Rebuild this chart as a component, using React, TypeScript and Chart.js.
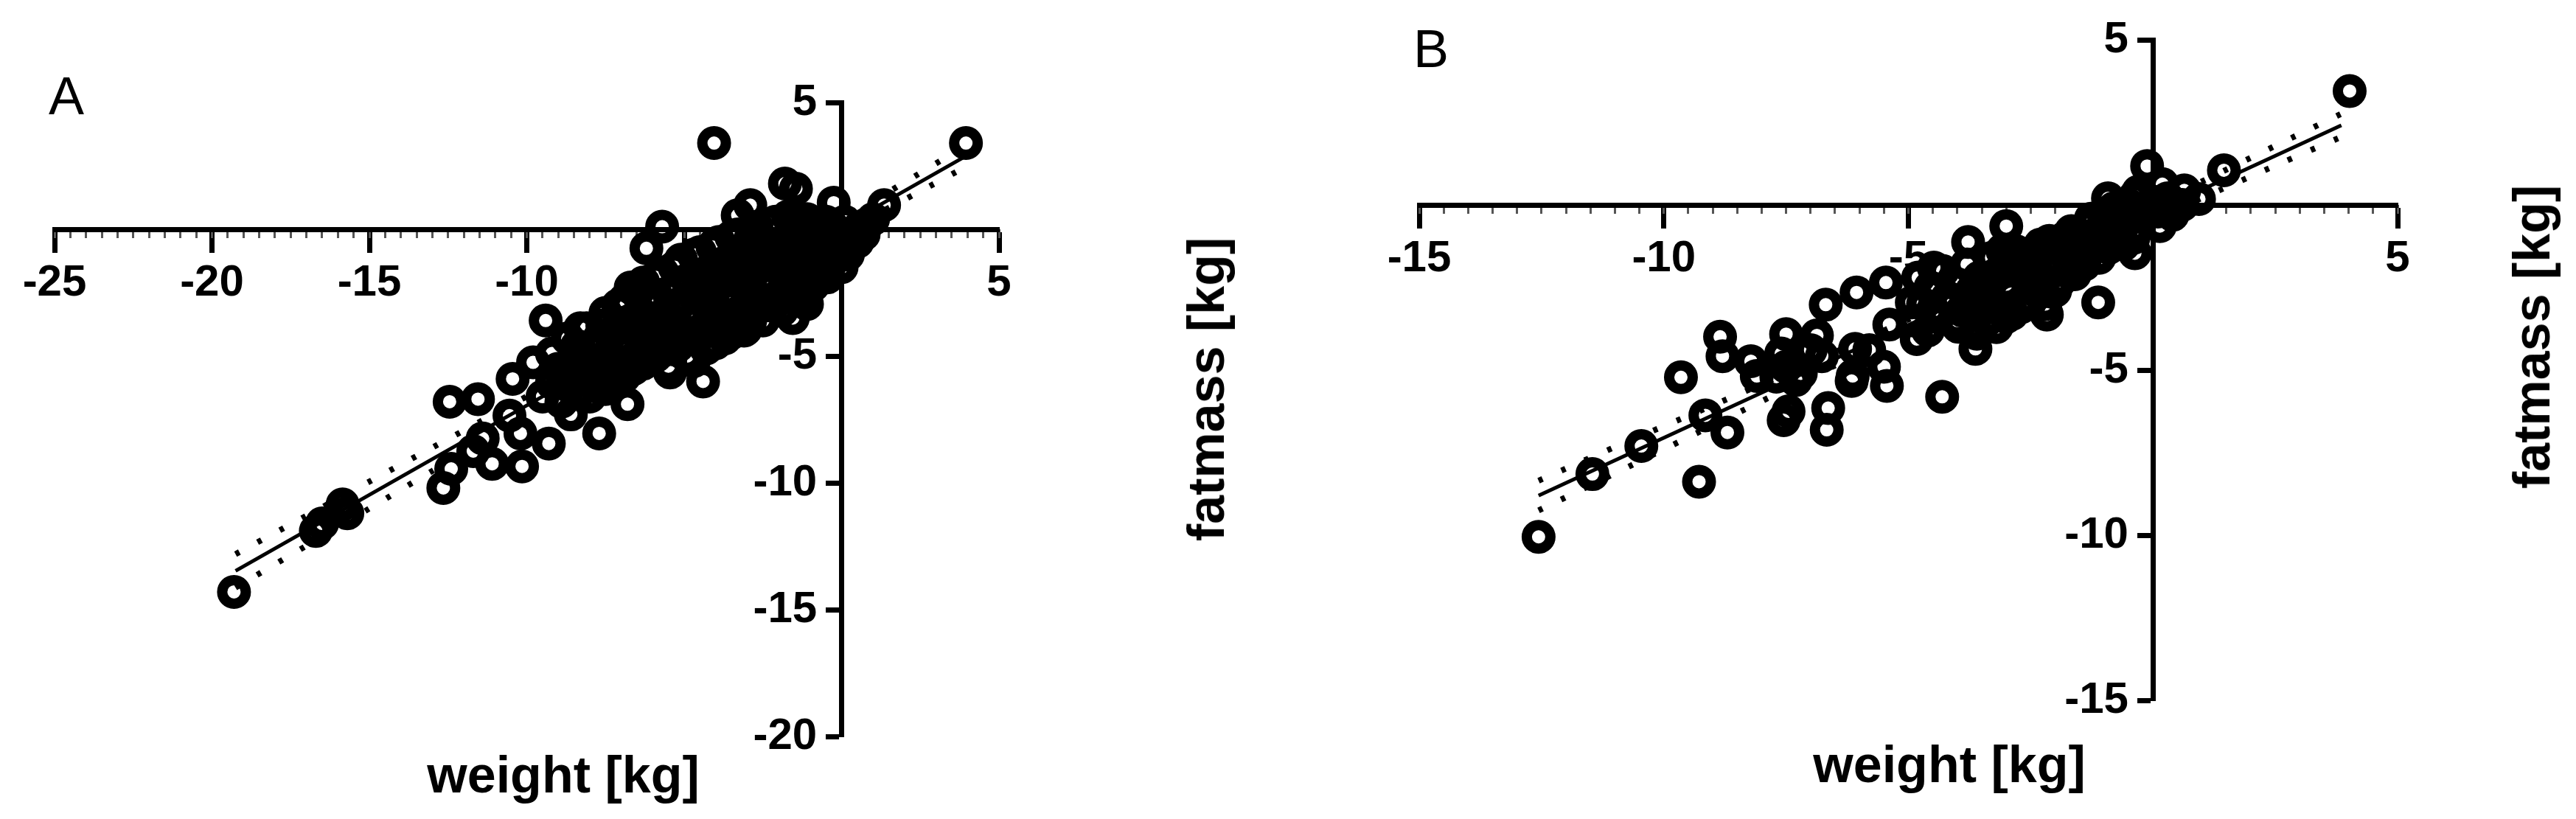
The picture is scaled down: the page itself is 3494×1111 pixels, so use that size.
import React, { useEffect, useRef } from 'react';
import { Chart, registerables } from 'chart.js';

Chart.register(...registerables);

const FONT = "'Liberation Sans', Arial, Helvetica, sans-serif";

// ---------- Panel A data (weight change [kg], fatmass change [kg]) ----------
const outlyingA: [number, number][] = [
  [-19.3, -14.3], [-16.7, -11.9], [-16.5, -11.6], [-15.7, -11.2], [-15.85, -10.85],
  [-12.45, -6.8], [-11.55, -6.7], [-12.65, -10.2], [-12.4, -9.45], [-11.7, -8.75],
  [-11.1, -9.25], [-10.15, -9.35], [-9.3, -8.45], [-10.2, -8.05], [-10.55, -7.35],
  [-11.4, -8.25], [-8.6, -7.3], [-7.7, -8.05], [-10.45, -5.9], [-9.8, -5.25],
  [-9.4, -3.6], [-8.3, -3.9], [-9.2, -6.05], [-9.2, -4.9], [-7.6, -3.8],
  [-6.15, -3.55], [-6.85, -3.0], [-6.7, -2.3], [-5.8, -1.8], [-6.2, -0.75],
  [-5.7, 0.1], [-4.05, 3.4], [-1.8, 1.8], [-1.45, 1.6], [-0.25, 1.05],
  [1.35, 0.95], [-2.9, 0.95], [-3.3, 0.55], [-4.4, -6.0], [-5.45, -5.65],
  [-6.8, -6.9], [-0.45, -1.9], [-1.1, -2.95], [-1.55, -3.5], [-3.05, -3.95],
  [-4.0, -0.55], [0.15, -0.8], [0.55, 0.05], [3.95, 3.4], [-9.0, -5.5],
  [-8.65, -6.2], [-8.2, -5.0], [-8.9, -6.8], [-8.0, -6.6], [-9.5, -6.6], [-8.4, -4.6],
];
const clusterA: [number, number][] = [
  [-8.7, -4.3], [-8.5, -5.1], [-8.6, -5.9], [-8.4, -6.5],
  [-8.1, -3.9], [-7.9, -4.7], [-8.0, -5.4], [-7.8, -6.2],
  [-7.5, -3.3], [-7.3, -4.1], [-7.4, -4.9], [-7.2, -5.6], [-7.5, -6.3],
  [-6.9, -2.8], [-6.7, -3.6], [-6.8, -4.4], [-6.6, -5.1], [-6.9, -5.8],
  [-6.3, -2.1], [-6.1, -2.9], [-6.2, -3.8], [-6.0, -4.6], [-6.3, -5.3],
  [-5.7, -1.7], [-5.5, -2.5], [-5.6, -3.3], [-5.4, -4.1], [-5.7, -4.8], [-5.5, -5.4],
  [-5.1, -1.2], [-4.9, -2.0], [-5.0, -2.8], [-4.8, -3.6], [-5.1, -4.3], [-4.9, -5.0],
  [-4.5, -0.9], [-4.3, -1.7], [-4.4, -2.5], [-4.2, -3.3], [-4.5, -4.0], [-4.3, -4.7],
  [-3.9, -0.5], [-3.7, -1.3], [-3.8, -2.1], [-3.6, -2.9], [-3.9, -3.6], [-3.7, -4.3],
  [-3.3, -0.2], [-3.1, -1.0], [-3.2, -1.8], [-3.0, -2.6], [-3.3, -3.3], [-3.1, -4.0],
  [-2.7, 0.1], [-2.5, -0.7], [-2.6, -1.5], [-2.4, -2.3], [-2.7, -3.0], [-2.5, -3.6],
  [-2.1, 0.3], [-1.9, -0.5], [-2.0, -1.3], [-1.8, -2.0], [-2.1, -2.7], [-1.9, -3.2],
  [-1.5, 0.3], [-1.3, -0.5], [-1.4, -1.2], [-1.2, -1.9], [-1.5, -2.5],
  [-0.9, 0.2], [-0.7, -0.5], [-0.8, -1.2], [-0.6, -1.8], [-0.9, -2.2],
  [-0.3, 0.1], [-0.1, -0.5], [-0.2, -1.1], [0.0, -1.5],
  [0.3, -0.2], [0.5, -0.5], [0.8, 0.2],
];
const denseA: [number, number][] = [
  [-8.3, -4.8], [-8.3, -5.6], [-7.7, -4.3], [-7.6, -5.1], [-7.6, -5.8], [-7.1, -3.0],
  [-7.0, -3.8], [-7.0, -4.6], [-7.0, -5.3], [-6.5, -2.5], [-6.4, -3.3], [-6.5, -4.1],
  [-6.4, -4.8], [-6.6, -5.5], [-5.9, -1.9], [-5.9, -2.7], [-5.8, -3.6], [-5.8, -4.3],
  [-5.9, -5.0], [-5.3, -1.5], [-5.2, -2.3], [-5.3, -3.1], [-5.2, -3.9], [-5.2, -4.6],
  [-4.7, -1.0], [-4.6, -1.8], [-4.7, -2.6], [-4.6, -3.4], [-4.6, -4.3], [-4.7, -5.2],
  [-4.1, -0.7], [-4.0, -1.5], [-4.1, -2.3], [-4.0, -3.1], [-4.1, -3.8], [-4.0, -4.5],
  [-3.5, -0.3], [-3.4, -1.1], [-3.5, -1.9], [-3.4, -2.7], [-3.5, -3.5], [-3.5, -4.1],
  [-2.9, -0.4], [-2.8, -1.2], [-2.9, -2.0], [-2.8, -2.8], [-2.9, -3.6], [-2.3, 0.2],
  [-2.2, -0.6], [-2.3, -1.4], [-2.2, -2.2], [-2.3, -3.0], [-1.7, 0.5], [-1.6, -0.2],
  [-1.7, -0.9], [-1.6, -1.6], [-1.7, -2.4], [-1.1, 0.4], [-1.0, -0.3], [-1.1, -1.0],
  [-1.0, -1.6], [-1.2, -2.6], [-0.5, 0.3], [-0.4, -0.3], [-0.5, -1.0], [-0.4, -1.5],
  [0.1, 0.3], [0.2, -1.0], [0.7, -0.2], [1.0, 0.4],
];
const fitAx = [-19.25, 3.95];
const fitAy = [-13.47, 2.89];
const ciAx = [-19.25, -17, -15, -13, -11, -9, -7, -5, -3, -1, 1, 2.5, 3.95];
const ciAUpper = [-12.81, -11.3, -9.95, -8.61, -7.26, -5.92, -4.57, -3.2, -1.8, -0.36, 1.11, 2.22, 3.31];
const ciALower = [-14.13, -12.48, -11.01, -9.53, -8.06, -6.58, -5.11, -3.66, -2.24, -0.86, 0.51, 1.5, 2.47];

// ---------- Panel B data ----------
const outlyingB: [number, number][] = [
  [-12.56, -10.05], [-11.46, -8.15], [-10.46, -7.3], [-9.65, -5.22], [-9.15, -6.37],
  [-8.7, -6.89], [-9.28, -8.38], [-8.85, -3.99], [-8.8, -4.58], [-8.22, -4.73],
  [-8.1, -5.18], [-7.5, -3.91], [-7.55, -6.52], [-7.45, -6.25], [-6.87, -3.95],
  [-6.77, -4.58], [-6.69, -3.02], [-6.06, -2.65], [-5.46, -2.35], [-6.64, -6.15],
  [-6.67, -6.81], [-6.14, -5.18], [-6.09, -4.36], [-5.44, -5.48], [-5.39, -3.62],
  [-7.5, -4.9], [-7.2, -5.1], [-7.6, -4.5], [-7.3, -5.3], [-7.0, -4.4],
  [-7.7, -5.2], [-5.8, -4.4], [-5.5, -4.9], [-6.16, -5.33], [-4.31, -5.81],
  [-4.83, -4.06], [-4.93, -2.95], [-4.48, -1.9], [-3.98, -3.69], [-3.63, -4.36],
  [-3.78, -1.12], [-3.0, -0.64], [-3.08, -1.38], [-2.12, -1.09], [-1.67, -0.79],
  [-2.17, -3.32], [-1.12, -2.95], [-0.12, 1.18], [1.45, 1.05], [0.14, -0.64],
  [-0.37, -1.46], [-0.37, -0.71], [-0.87, -0.19], [-1.27, -0.42], [-0.37, 0.25],
  [0.19, 0.63], [0.64, 0.44], [0.94, 0.18], [-0.92, 0.2], [-2.53, -2.35],
  [-1.72, -1.98], [-3.33, -2.35], [-4.08, -2.35], [-3.58, -3.24], [-2.88, -3.3],
  [-1.97, -1.68], [-1.42, -1.31], [4.02, 3.45],
];
const clusterB: [number, number][] = [
  [-4.8, -2.2], [-4.7, -3.0], [-4.9, -3.5], [-4.3, -2.0], [-4.2, -2.8], [-4.4, -3.4],
  [-4.1, -3.0], [-3.8, -1.8], [-3.7, -2.6], [-3.9, -3.2], [-3.6, -3.9], [-3.3, -1.6],
  [-3.2, -2.1], [-3.4, -2.9], [-3.2, -3.7], [-2.8, -1.4], [-2.7, -2.0], [-2.9, -2.7],
  [-2.7, -3.1], [-2.3, -1.2], [-2.2, -1.8], [-2.4, -2.6], [-2.2, -3.0], [-1.8, -1.0],
  [-1.7, -1.5], [-1.9, -2.3], [-1.3, -0.6], [-1.2, -1.1], [-1.4, -1.8], [-0.8, -0.1],
  [-0.7, -0.9], [-0.9, -1.3], [-0.3, 0.4], [-0.2, -0.2], [-0.4, -1.0], [0.3, 0.2], [0.4, -0.3],
];
const denseB: [number, number][] = [
  [-4.55, -2.5], [-4.5, -3.2], [-4.6, -3.8], [-4.0, -2.4], [-4.0, -3.5], [-3.55, -2.2],
  [-3.5, -3.0], [-3.4, -3.5], [-3.0, -1.8], [-3.0, -2.4], [-3.0, -3.4], [-2.5, -1.5],
  [-2.5, -2.2], [-2.5, -2.9], [-2.0, -1.3], [-2.0, -2.0], [-2.0, -2.6], [-1.5, -0.9],
  [-1.5, -1.5], [-1.6, -2.1], [-1.0, -0.5], [-1.0, -1.0], [-1.1, -1.6], [-0.5, 0.0],
  [-0.55, -0.5], [-0.6, -1.2], [0.0, 0.1], [0.1, -0.2], [0.6, 0.0],
];
const fitBx = [-12.56, 3.85];
const fitBy = [-8.8, 2.41];
const ciBx = [-12.56, -11, -9, -7, -5, -3, -1, 1, 2.5, 3.85];
const ciBUpper = [-8.35, -7.33, -6.07, -4.78, -3.47, -2.11, -0.7, 0.71, 1.79, 2.76];
const ciBLower = [-9.25, -8.13, -6.67, -5.22, -3.8, -2.43, -1.1, 0.21, 1.19, 2.06];

// ---------- axis ranges ----------
const xRangeA = [-25, 5];
const yRangeA = [-20, 5];
const xRangeB = [-15, 5];
const yRangeB = [-15, 5];
const majorStep = 5;
const minorStep = 0.5;

const panelLabels = ['A', 'B'];
const xTitle = 'weight [kg]';
const yTitle = 'fatmass [kg]';

type Pad = { left: number; right: number; top: number; bottom: number };

function toXY(pairs: [number, number][]) {
  return pairs.map(([x, y]) => ({ x, y }));
}
function zipXY(xs: number[], ys: number[]) {
  return xs.map((x, i) => ({ x, y: ys[i] }));
}

function makeConfig(
  points: [number, number][],
  fitX: number[], fitY: number[],
  ciX: number[], ciU: number[], ciL: number[],
  xr: number[], yr: number[], pad: Pad
): any {
  const tickFont = { family: FONT, size: 60, weight: 'bold' as const };
  const dotted = {
    showLine: true,
    borderColor: '#000',
    borderWidth: 8,
    borderDash: [6, 28],
    pointRadius: 0,
    tension: 0.3,
    order: 2,
  };
  return {
    type: 'scatter',
    data: {
      datasets: [
        {
          data: toXY(points),
          pointStyle: 'circle',
          pointRadius: 16,
          pointBorderWidth: 14,
          pointBorderColor: '#000',
          pointBackgroundColor: 'rgba(0,0,0,0)',
          showLine: false,
          order: 0,
          clip: false,
        },
        {
          data: zipXY(fitX, fitY),
          showLine: true,
          borderColor: '#000',
          borderWidth: 5,
          pointRadius: 0,
          order: 1,
        },
        { ...dotted, data: zipXY(ciX, ciU) },
        { ...dotted, data: zipXY(ciX, ciL) },
      ],
    },
    options: {
      responsive: false,
      devicePixelRatio: 1,
      animation: false,
      events: [],
      layout: { padding: pad },
      plugins: {
        legend: { display: false },
        tooltip: { enabled: false },
        title: { display: false },
      },
      scales: {
        x: {
          type: 'linear',
          min: xr[0],
          max: xr[1],
          position: { y: 0 },
          ticks: {
            stepSize: majorStep,
            autoSkip: false,
            maxRotation: 0,
            padding: 9,
            color: '#000',
            font: tickFont,
            callback: (v: number) => (v === 0 ? '' : String(v)),
          },
          grid: {
            drawOnChartArea: false,
            drawTicks: true,
            tickLength: 28,
            tickWidth: 7,
            tickColor: '#000',
          },
          border: { display: true, color: '#000', width: 7 },
        },
        xMinor: {
          type: 'linear',
          axis: 'x',
          min: xr[0],
          max: xr[1],
          position: { y: 0 },
          ticks: { display: false, stepSize: minorStep, autoSkip: false },
          grid: {
            drawOnChartArea: false,
            drawTicks: true,
            tickLength: 12,
            tickWidth: 3,
            tickColor: '#555',
          },
          border: { display: false },
        },
        y: {
          type: 'linear',
          min: yr[0],
          max: yr[1],
          position: { x: 0 },
          ticks: {
            stepSize: majorStep,
            autoSkip: false,
            color: '#000',
            font: tickFont,
            callback: (v: number) => (v === 0 ? '' : `${v}\u00a0\u00a0`),
          },
          grid: {
            drawOnChartArea: false,
            drawTicks: true,
            tickLength: 18,
            tickWidth: 7,
            tickColor: '#000',
          },
          border: { display: true, color: '#000', width: 7 },
        },
      },
    },
  };
}

function Panel(props: { left: number; width: number; config: any }) {
  const ref = useRef<HTMLCanvasElement | null>(null);
  useEffect(() => {
    if (!ref.current) return;
    const chart = new Chart(ref.current, props.config);
    return () => chart.destroy();
  }, []);
  return (
    <canvas
      ref={ref}
      width={props.width}
      height={1111}
      style={{ position: 'absolute', left: props.left, top: 0, width: props.width, height: 1111 }}
    />
  );
}

const textBase: React.CSSProperties = {
  position: 'absolute',
  fontFamily: FONT,
  color: '#000',
  lineHeight: 1,
  whiteSpace: 'nowrap',
  transform: 'translate(-50%, -50%)',
};

export default function App() {
  const cfgA = makeConfig(
    [...outlyingA, ...clusterA, ...denseA], fitAx, fitAy, ciAx, ciAUpper, ciALower,
    xRangeA, yRangeA, { left: 74, right: 395, top: 139, bottom: 112 }
  );
  const cfgB = makeConfig(
    [...outlyingB, ...clusterB, ...denseB], fitBx, fitBy, ciBx, ciBUpper, ciBLower,
    xRangeB, yRangeB, { left: 175, right: 242, top: 54, bottom: 161 }
  );
  const rot = 'translate(-50%, -50%) rotate(-90deg)';
  return (
    <div style={{ position: 'fixed', left: 0, top: 0, width: 3494, height: 1111, background: '#fff', overflow: 'hidden' }}>
      <Panel left={0} width={1750} config={cfgA} />
      <Panel left={1750} width={1744} config={cfgB} />
      <div style={{ ...textBase, left: 90, top: 130, fontSize: 72 }}>{panelLabels[0]}</div>
      <div style={{ ...textBase, left: 1941, top: 66, fontSize: 72 }}>{panelLabels[1]}</div>
      <div style={{ ...textBase, left: 764, top: 1051, fontSize: 70, fontWeight: 'bold' }}>{xTitle}</div>
      <div style={{ ...textBase, left: 2644, top: 1037, fontSize: 70, fontWeight: 'bold' }}>{xTitle}</div>
      <div style={{ ...textBase, left: 1636, top: 528, fontSize: 70, fontWeight: 'bold', transform: rot }}>{yTitle}</div>
      <div style={{ ...textBase, left: 3434, top: 457, fontSize: 70, fontWeight: 'bold', transform: rot }}>{yTitle}</div>
    </div>
  );
}
